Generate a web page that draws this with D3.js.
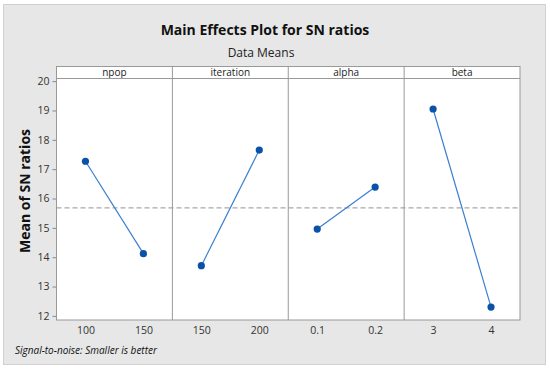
<!DOCTYPE html>
<html>
<head>
<meta charset="utf-8">
<script src="https://cdn.jsdelivr.net/npm/d3@7"></script>
<style>
  body { margin: 0; background: #fff; }
  text { font-family: "Segoe UI", "Open Sans", sans-serif; }
</style>
</head>
<body>
<div id="chart"></div>
<script>
// factors and their levels
const factors = ["npop", "iteration", "alpha", "beta"];
const levels = [["100", "150"], ["150", "200"], ["0.1", "0.2"], ["3", "4"]];
const means = [[17.27, 14.12], [13.71, 17.65], [14.96, 16.39], [19.05, 12.30]];
const grandMean = 15.68;
const yTicks = [12, 13, 14, 15, 16, 17, 18, 19, 20];

const width = 550, height = 369;
const plotL = 56.5, plotR = 520, plotT = 78.5, plotB = 320, stripH = 12;

const svg = d3.select("#chart").append("svg")
    .attr("width", width)
    .attr("height", height);

// gray frame
svg.append("rect")
    .attr("x", 3.5).attr("y", 4.5)
    .attr("width", 542).attr("height", 360)
    .attr("fill", "#e7e7e7")
    .attr("stroke", "#d0d0d0");

svg.append("text")
    .attr("x", 265).attr("y", 35)
    .attr("text-anchor", "middle")
    .attr("font-size", 14).attr("font-weight", "bold")
    .attr("fill", "#111")
    .text("Main Effects Plot for SN ratios");

svg.append("text")
    .attr("x", 261).attr("y", 57)
    .attr("text-anchor", "middle")
    .attr("font-size", 12).attr("fill", "#222")
    .text("Data Means");

const y = d3.scaleLinear().domain([11.86, 20.09]).range([plotB, plotT]);
const panel = d3.scaleBand().domain(factors).range([plotL, plotR]);

// plot background + strip
svg.append("rect")
    .attr("x", plotL).attr("y", plotT - stripH)
    .attr("width", plotR - plotL).attr("height", plotB - plotT + stripH)
    .attr("fill", "#fff");

// y axis
const yAxis = svg.append("g")
    .attr("transform", `translate(${plotL},0)`)
    .call(d3.axisLeft(y).tickValues(yTicks).tickSize(4).tickPadding(3));
yAxis.select(".domain").remove();
yAxis.selectAll("line").attr("stroke", "#888");
yAxis.selectAll("text").attr("font-size", 10.5).attr("fill", "#333")
    .style("font-family", '"Segoe UI", "Open Sans", sans-serif');

svg.append("text")
    .attr("transform", "translate(25,191) rotate(-90)")
    .attr("text-anchor", "middle")
    .attr("dy", "0.35em")
    .attr("font-size", 14).attr("font-weight", "bold")
    .attr("fill", "#111")
    .text("Mean of SN ratios");

// grand mean reference line
svg.append("line")
    .attr("x1", plotL).attr("x2", plotR)
    .attr("y1", y(grandMean)).attr("y2", y(grandMean))
    .attr("stroke", "#a8a8a8")
    .attr("stroke-width", 1.2)
    .attr("stroke-dasharray", "5,3");

factors.forEach((f, i) => {
    const x0 = panel(f);
    const x = d3.scalePoint().domain(levels[i]).range([x0, x0 + panel.bandwidth()]).padding(0.5);
    const g = svg.append("g");

    g.append("text")
        .attr("x", x0 + panel.bandwidth() / 2).attr("y", plotT - 3)
        .attr("text-anchor", "middle")
        .attr("font-size", 10).attr("fill", "#222")
        .text(f);

    const xAxis = g.append("g")
        .attr("transform", `translate(0,${plotB})`)
        .call(d3.axisBottom(x).tickSize(0).tickPadding(7));
    xAxis.select(".domain").remove();
    xAxis.selectAll("text").attr("font-size", 10.5).attr("fill", "#333")
        .style("font-family", '"Segoe UI", "Open Sans", sans-serif');

    const pts = levels[i].map((l, j) => ({ l, v: means[i][j] }));
    g.append("path")
        .datum(pts)
        .attr("fill", "none")
        .attr("stroke", "#3a7fd0")
        .attr("stroke-width", 1.2)
        .attr("d", d3.line().x(d => x(d.l)).y(d => y(d.v)));
    g.selectAll("circle")
        .data(pts)
        .enter()
        .append("circle")
        .attr("cx", d => x(d.l))
        .attr("cy", d => y(d.v))
        .attr("r", 3.6)
        .attr("fill", "#0a52a8");
});

// panel borders
svg.append("rect")
    .attr("x", plotL).attr("y", plotT - stripH)
    .attr("width", plotR - plotL).attr("height", plotB - plotT + stripH)
    .attr("fill", "none").attr("stroke", "#999");
svg.append("line")
    .attr("x1", plotL).attr("x2", plotR)
    .attr("y1", plotT).attr("y2", plotT)
    .attr("stroke", "#999");
factors.slice(1).forEach(f => {
    svg.append("line")
        .attr("x1", panel(f)).attr("x2", panel(f))
        .attr("y1", plotT - stripH).attr("y2", plotB)
        .attr("stroke", "#999");
});

svg.append("text")
    .attr("x", 15).attr("y", 354)
    .attr("font-size", 10).attr("font-style", "italic")
    .attr("fill", "#111")
    .text("Signal-to-noise: Smaller is better");
</script>
</body>
</html>
